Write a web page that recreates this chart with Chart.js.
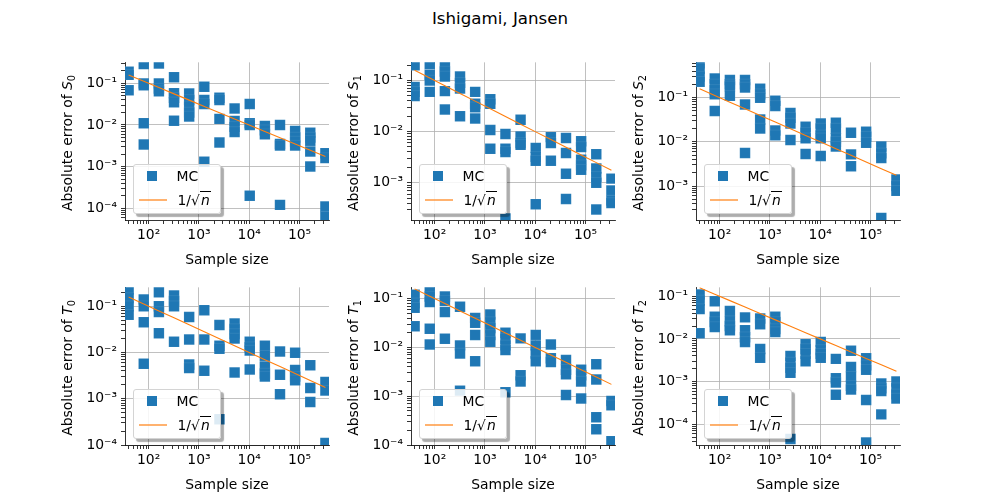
<!DOCTYPE html>
<html><head><meta charset="utf-8">
<script src="https://cdn.jsdelivr.net/npm/chart.js@4/dist/chart.umd.min.js"></script>
<style>
body{margin:0;width:1000px;height:500px;background:#fff;position:relative;overflow:hidden;font-family:"DejaVu Sans",sans-serif;color:#000}
canvas{position:absolute}
.title{position:absolute;left:0;width:1000px;top:9px;line-height:19px;text-align:center;font-size:16.67px}
.ylab{position:absolute;width:170px;height:20px;line-height:20px;text-align:center;font-size:13.9px;transform:rotate(-90deg);white-space:nowrap}
.ylab sub{font-size:9.7px;vertical-align:-3px}
.leg{position:absolute;width:86px;height:48px;border:1px solid #d4d4d4;border-radius:3px;background:rgba(255,255,255,0.85);box-shadow:3px 3px 1px rgba(0,0,0,0.32);font-size:13.9px;z-index:5}
.leg .mk{position:absolute;left:13px;top:6px;width:10px;height:10px;background:#1f77b4}
.leg svg{position:absolute;left:5px;top:33px}
.leg .t1{position:absolute;left:43px;top:2px;line-height:18px}
.leg .t2{position:absolute;left:44px;top:26px;line-height:18px;white-space:nowrap}
.leg .rad{border-top:1px solid #000;padding-left:1px;padding-right:1px}
</style>
</head><body>
<div class="title">Ishigami, Jansen</div>
<script>
// ---- data ----
const SIZES = [40, 80, 160, 320, 640, 1280, 2560, 5120, 10240, 20480, 40960, 81920, 163840, 327680];

const S0_ERR = [
  [0.19, 0.16, 0.068],
  [0.29, 0.1, 0.09, 0.011, 0.0034],
  [0.3, 0.1, 0.075, 0.065],
  [0.14, 0.058, 0.045, 0.035, 0.0127],
  [0.057, 0.04, 0.028, 0.02, 0.016],
  [0.083, 0.04, 0.032, 0.0013],
  [0.045, 0.04, 0.014, 0.0038],
  [0.025, 0.0125, 0.009, 0.0068],
  [0.032, 0.011, 0.01, 0.0002],
  [0.0095, 0.0075, 0.006],
  [0.01, 0.0035, 0.0032, 0.00012],
  [0.0072, 0.005, 0.004, 0.0032],
  [0.0065, 0.005, 0.0042, 0.0023, 0.001],
  [0.0021, 0.0016, 0.00011, 0.000063]
];
const S1_ERR = [
  [0.2, 0.075, 0.06, 0.05],
  [0.21, 0.13, 0.1, 0.06],
  [0.19, 0.15, 0.12, 0.062, 0.027],
  [0.12, 0.09, 0.07, 0.02],
  [0.06, 0.035, 0.03, 0.018],
  [0.043, 0.035, 0.0107, 0.0046],
  [0.009, 0.0046, 0.004, 0.0002],
  [0.017, 0.008, 0.006, 0.0055],
  [0.0048, 0.0032, 0.0027, 0.00038],
  [0.0078, 0.006, 0.0027],
  [0.0075, 0.0038, 0.0015, 0.00048],
  [0.0065, 0.005, 0.0028, 0.0022, 0.0018],
  [0.0036, 0.0019, 0.0013, 0.001, 0.0003],
  [0.0012, 0.0007, 0.00045, 0.0004]
];
const S2_ERR = [
  [0.6, 0.45, 0.3, 0.23],
  [0.27, 0.2, 0.15, 0.12, 0.05],
  [0.25, 0.2, 0.18, 0.11],
  [0.25, 0.2, 0.17, 0.07, 0.0056],
  [0.16, 0.12, 0.1, 0.032, 0.02],
  [0.085, 0.065, 0.018, 0.014],
  [0.045, 0.035, 0.026, 0.011],
  [0.022, 0.016, 0.012, 0.0053],
  [0.026, 0.02, 0.014, 0.012, 0.0048],
  [0.027, 0.02, 0.012, 0.01, 0.0078],
  [0.016, 0.0052, 0.0028],
  [0.017, 0.013, 0.0095],
  [0.0078, 0.0055, 0.0043, 0.00019],
  [0.0014, 0.001, 0.00078]
];
const T0_ERR = [
  [0.23, 0.15, 0.1, 0.065],
  [0.14, 0.1, 0.045, 0.0057],
  [0.2, 0.1, 0.075, 0.026],
  [0.17, 0.13, 0.1, 0.017],
  [0.058, 0.019, 0.0055, 0.0046],
  [0.082, 0.019, 0.004],
  [0.039, 0.014, 0.012, 0.00036],
  [0.042, 0.032, 0.025, 0.02, 0.0037],
  [0.017, 0.013, 0.011, 0.0043],
  [0.014, 0.0085, 0.005, 0.0035, 0.003],
  [0.0105, 0.0033, 0.00125],
  [0.0098, 0.0042, 0.003, 0.0025],
  [0.0053, 0.0017, 0.00085],
  [0.0023, 0.0015, 0.00011]
];
const T1_ERR = [
  [0.12, 0.08, 0.065, 0.027],
  [0.15, 0.11, 0.085, 0.024, 0.0115],
  [0.11, 0.09, 0.053, 0.015],
  [0.068, 0.011, 0.0075, 0.0013],
  [0.04, 0.032, 0.018, 0.0052],
  [0.047, 0.033, 0.025, 0.018, 0.013],
  [0.02, 0.015, 0.011, 0.0088, 0.0012],
  [0.0153, 0.0027, 0.002],
  [0.018, 0.011, 0.0075, 0.0052],
  [0.0115, 0.006, 0.005],
  [0.0055, 0.0035, 0.0028, 0.00106],
  [0.0035, 0.0027, 0.002, 0.0009],
  [0.0045, 0.0022, 0.00037, 0.00021],
  [0.0008, 0.00065, 0.00012]
];
const T2_ERR = [
  [0.11, 0.08, 0.05, 0.0135],
  [0.076, 0.033, 0.025, 0.019],
  [0.045, 0.026, 0.02, 0.016],
  [0.032, 0.016, 0.011, 0.0085],
  [0.03, 0.022, 0.0058, 0.0036],
  [0.033, 0.025, 0.017, 0.0145],
  [0.004, 0.0028, 0.0021, 0.0016, 0.000045],
  [0.0075, 0.0058, 0.0045, 0.003],
  [0.0085, 0.0055, 0.0045, 0.0036],
  [0.0034, 0.0012, 0.00095, 0.00049],
  [0.0053, 0.0022, 0.0013, 0.0008, 0.00065],
  [0.0035, 0.0024, 0.0019, 0.00037, 0.000037],
  [0.0009, 0.0007, 0.0006, 0.00017],
  [0.001, 0.0007, 0.0005, 0.0004]
];

const PANEL_ERRS = [S0_ERR, S1_ERR, S2_ERR, T0_ERR, T1_ERR, T2_ERR];
const PANEL_SYMBOLS = ['S', 'S', 'S', 'T', 'T', 'T'];
const PANEL_INDICES = ['0', '1', '2', '0', '1', '2'];
const Y_MIN = [5.2e-5, 1.86e-4, 1.7e-4, 1e-4, 1e-4, 3.25e-5];
const Y_MAX = [0.32, 0.227, 0.63, 0.255, 0.17, 0.162];
const X_MIN = 33.9, X_MAX = 386000;
const LEGEND_LABELS = ['MC', '1/√n'];

// ---- layout ----
const AX_LEFT = [125, 411, 696];
const AX_TOP = [60, 285];
const AX_W = 204, AX_H = 160;
const PAD_L = 80, PAD_T = 10, PAD_R = 12, PAD_B = 49;

const SUP = {'0':'⁰','1':'¹','2':'²','3':'³','4':'⁴','5':'⁵','6':'⁶','7':'⁷','8':'⁸','9':'⁹','-':'⁻'};
function pow10Label(v) {
  const e = Math.log10(v);
  const r = Math.round(e);
  if (Math.abs(e - r) > 1e-6) return '';
  return '10' + String(r).split('').map(c => SUP[c]).join('');
}
function isPow10(v) { const e = Math.log10(v); return Math.abs(e - Math.round(e)) < 1e-6; }
function isLogTick(v) {
  const m = v / Math.pow(10, Math.floor(Math.log10(v) + 1e-9));
  return Math.abs(m - Math.round(m)) < 1e-6;
}

const FONT = {family: '"DejaVu Sans", sans-serif', size: 13.9};

function axisCommon() {
  return {
    type: 'logarithmic',
    grid: {
      color: c => (c.tick && isPow10(c.tick.value)) ? '#b0b0b0' : 'rgba(0,0,0,0)',
      lineWidth: 0.8,
      drawTicks: true,
      tickLength: 4,
      tickWidth: 0.8,
      tickColor: c => (c.tick && isLogTick(c.tick.value)) ? '#000' : 'rgba(0,0,0,0)'
    },
    border: {display: true, color: '#000', width: 0.8},
    ticks: {
      autoSkip: false, maxRotation: 0, minRotation: 0,
      color: '#000', font: FONT,
      callback: (v) => pow10Label(v)
    }
  };
}

PANEL_ERRS.forEach((errs, p) => {
  const col = p % 3, row = Math.floor(p / 3);
  const axL = AX_LEFT[col], axT = AX_TOP[row];
  const cv = document.createElement('canvas');
  const W = PAD_L + AX_W + PAD_R, H = PAD_T + AX_H + PAD_B;
  cv.width = W; cv.height = H;
  cv.style.left = (axL - PAD_L) + 'px';
  cv.style.top = (axT - PAD_T) + 'px';
  cv.style.width = W + 'px'; cv.style.height = H + 'px';
  document.body.appendChild(cv);

  const pts = [];
  SIZES.forEach((n, i) => errs[i].forEach(v => pts.push({x: n, y: v})));
  const linePts = SIZES.map(n => ({x: n, y: 1 / Math.sqrt(n)}));

  const xs = axisCommon();
  Object.assign(xs, {
    position: 'bottom', min: X_MIN, max: X_MAX,
    title: {display: true, text: 'Sample size', color: '#000', font: FONT, padding: {top: 2, bottom: 0}},
    afterFit: s => { s.height = PAD_B; }
  });
  xs.ticks.padding = 3;
  const ys = axisCommon();
  Object.assign(ys, {
    position: 'left', min: Y_MIN[p], max: Y_MAX[p],
    afterFit: s => { s.width = PAD_L; }
  });
  ys.ticks.padding = 4;

  new Chart(cv, {
    type: 'scatter',
    data: {
      datasets: [
        {type: 'line', label: LEGEND_LABELS[1], data: linePts, borderColor: '#ff7f0e', borderWidth: 1.1,
         pointRadius: 0, fill: false, tension: 0, clip: 0},
        {label: LEGEND_LABELS[0], data: pts, pointStyle: 'rect', pointRadius: 7.4,
         backgroundColor: '#1f77b4', borderColor: 'rgba(255,255,255,0.1)', borderWidth: 0.8, clip: 0}
      ]
    },
    options: {
      responsive: false, animation: false, devicePixelRatio: 1,
      layout: {padding: {top: PAD_T, right: PAD_R, left: 0, bottom: 0}},
      plugins: {legend: {display: false}, tooltip: {enabled: false}},
      scales: {x: xs, y: ys}
    }
  });

  // y-axis label (HTML for italic symbol + subscript)
  const yl = document.createElement('div');
  yl.className = 'ylab';
  yl.innerHTML = 'Absolute error of <i>' + PANEL_SYMBOLS[p] + '</i><sub>' + PANEL_INDICES[p] + '</sub>';
  const cx = axL - 58, cy = axT + AX_H / 2 + 3;
  yl.style.left = (cx - 85) + 'px';
  yl.style.top = (cy - 10) + 'px';
  document.body.appendChild(yl);

  // legend box
  const lg = document.createElement('div');
  lg.className = 'leg';
  lg.style.left = (axL + 7.5) + 'px';
  lg.style.top = (axT + AX_H - 56) + 'px';
  lg.innerHTML = '<span class="mk"></span><span class="t1">' + LEGEND_LABELS[0] + '</span>' +
    '<svg width="28" height="4"><line x1="0" y1="2" x2="28" y2="2" stroke="#ff7f0e" stroke-width="1.2"/></svg>' +
    '<span class="t2">1/√<span class="rad"><i>n</i></span></span>';
  document.body.appendChild(lg);
});
</script>
</body></html>
